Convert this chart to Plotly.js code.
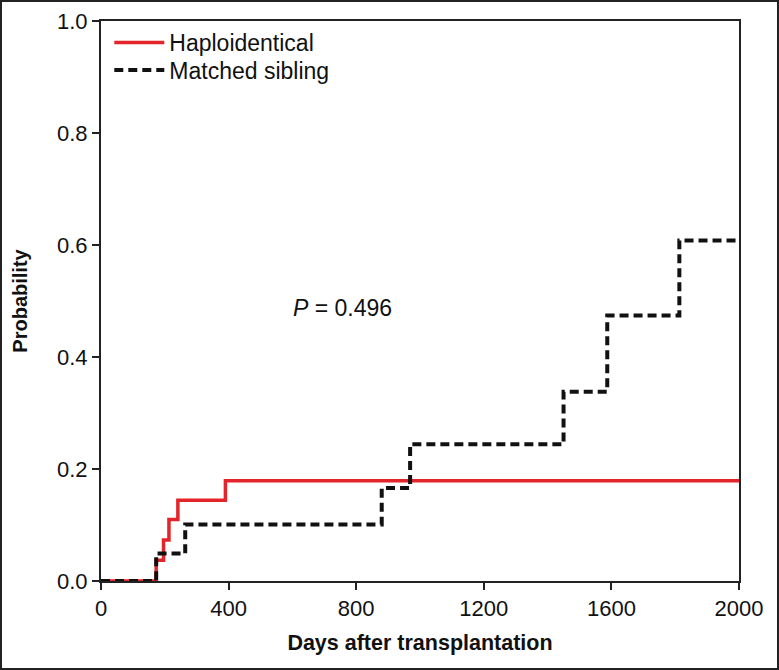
<!DOCTYPE html>
<html>
<head>
<meta charset="utf-8">
<script src="https://cdn.plot.ly/plotly-3.0.1.min.js"></script>
<style>
html,body{margin:0;padding:0;background:#fff;}
#wrap{position:relative;width:779px;height:670px;}
#chart{width:779px;height:670px;}
#frame{position:absolute;left:0;top:0;width:779px;height:670px;box-sizing:border-box;border:2px solid #222;pointer-events:none;}
</style>
</head>
<body>
<div id="wrap"><div id="chart"></div><div id="frame"></div></div>
<script>
// Data (cumulative incidence step curves)
const hapDays = [0, 173, 196, 213, 241, 390, 2000];
const hapProb = [0, 0.037, 0.073, 0.110, 0.144, 0.179, 0.179];
const sibDays = [0, 173, 264, 880, 969, 1450, 1587, 1813, 2000];
const sibProb = [0, 0.049, 0.101, 0.166, 0.244, 0.338, 0.474, 0.608, 0.608];
const seriesNames = ["Haploidentical", "Matched sibling"];
const xTicks = [0, 400, 800, 1200, 1600, 2000];
const yTicks = [0, 0.2, 0.4, 0.6, 0.8, 1.0];
const yTickText = ["0.0", "0.2", "0.4", "0.6", "0.8", "1.0"];

const font = "Liberation Sans, Arial, Helvetica, sans-serif";

const traces = [
  {x: hapDays, y: hapProb, name: seriesNames[0], type: "scatter", mode: "lines",
   legend: "legend",
   line: {shape: "hv", color: "#e3242b", width: 3.5}},
  {x: sibDays, y: sibProb, name: seriesNames[1], type: "scatter", mode: "lines",
   legend: "legend2",
   line: {shape: "hv", color: "#111", width: 4, dash: "9px,5px"}}
];

const axisCommon = {
  showgrid: false, zeroline: false, showline: true, mirror: true,
  linecolor: "#222", linewidth: 2, ticks: "outside", ticklen: 7, tickwidth: 2,
  tickcolor: "#222", tickfont: {family: font, size: 22, color: "#111"}
};

const legendCommon = {xanchor: "left", yanchor: "top", bgcolor: "rgba(0,0,0,0)",
  font: {family: font, size: 23, color: "#111"}, itemwidth: 50};

const layout = {
  width: 779, height: 670,
  margin: {l: 101, r: 40, t: 21, b: 89},
  paper_bgcolor: "#fff", plot_bgcolor: "#fff",
  showlegend: true,
  legend: Object.assign({x: 0.013, y: 1.0}, legendCommon),
  legend2: Object.assign({x: 0.013, y: 0.951}, legendCommon),
  xaxis: Object.assign({}, axisCommon, {
    range: [0, 2000], tickmode: "array", tickvals: xTicks,
    title: {text: "Days after transplantation", font: {family: font, size: 21.5, color: "#111", weight: "bold"}, standoff: 15}
  }),
  yaxis: Object.assign({}, axisCommon, {
    range: [0, 1], tickmode: "array", tickvals: yTicks, ticktext: yTickText,
    title: {text: "Probability", font: {family: font, size: 20, color: "#111", weight: "bold"}, standoff: 24}
  }),
  annotations: [
    {x: 757, y: 0.487, xref: "x", yref: "y", showarrow: false,
     text: "<i>P</i> = 0.496", font: {family: font, size: 23, color: "#111"}}
  ]
};

Plotly.newPlot("chart", traces, layout, {displayModeBar: false, staticPlot: true});
</script>
</body>
</html>
